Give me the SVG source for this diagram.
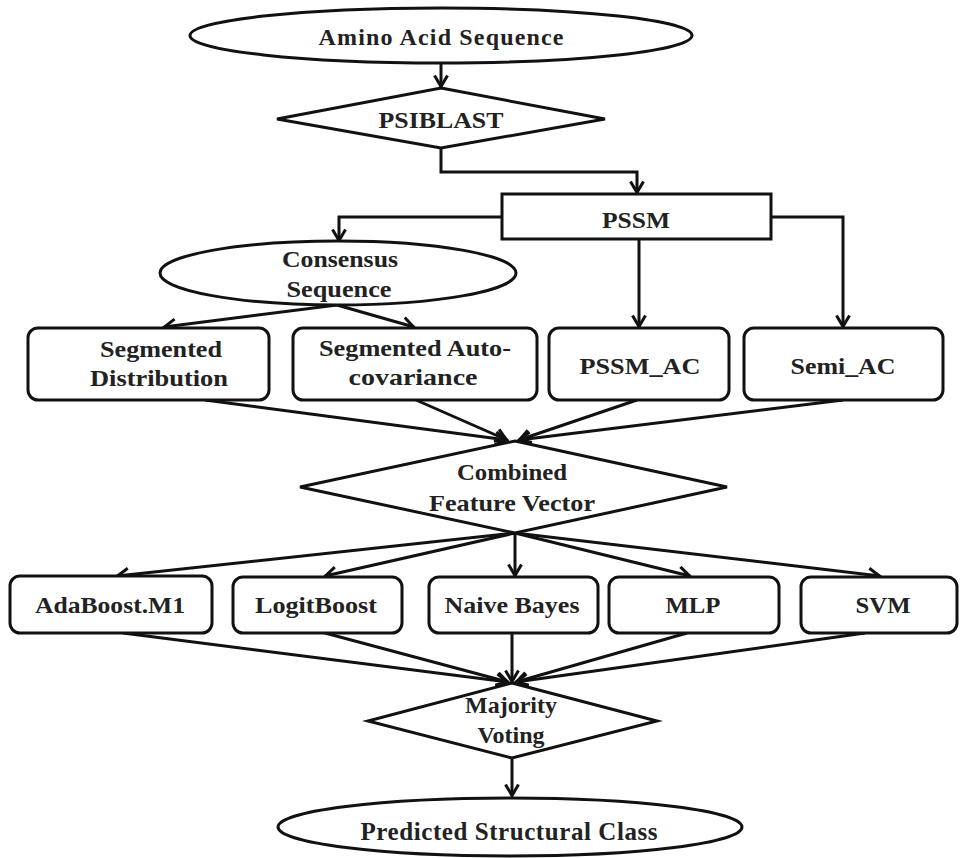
<svg xmlns="http://www.w3.org/2000/svg" width="960" height="858" viewBox="0 0 960 858">
<defs>
<style>
.s{fill:#fff;stroke:#111;stroke-width:3}
.c{fill:none;stroke:#111;stroke-width:3;marker-end:url(#a)}
text{font-family:"Liberation Serif","Times New Roman","DejaVu Serif",serif;font-weight:bold;font-size:24px;fill:#222;text-anchor:middle}
</style>
<marker id="a" viewBox="0 0 16 16" refX="13.5" refY="8" markerWidth="16" markerHeight="16" markerUnits="userSpaceOnUse" orient="auto">
<path d="M2,1.5 L13,8 L2,14.5" fill="none" stroke="#111" stroke-width="3"/>
</marker>
</defs>
<rect width="960" height="858" fill="#fff"/>
<g id="connectors">
<path class="c" d="M441,63 V87"/>
<path class="c" d="M441,148 V172 H637 V193"/>
<path class="c" d="M502,217 H339 V241"/>
<path class="c" d="M771,217 H843 V327"/>
<path class="c" d="M639,239 V327"/>
<path class="c" d="M337,305 L164,327"/>
<path class="c" d="M337,305 L414,327"/>
<path class="c" d="M205,400 L507,440"/>
<path class="c" d="M416,400 L507,440"/>
<path class="c" d="M637,400 L519,440"/>
<path class="c" d="M843,400 L519,440"/>
<path class="c" d="M515,533 L117,576"/>
<path class="c" d="M515,533 L325,576"/>
<path class="c" d="M515,533 L515,576"/>
<path class="c" d="M515,533 L690,576"/>
<path class="c" d="M515,533 L880,576"/>
<path class="c" d="M123,633 L508,682"/>
<path class="c" d="M325,633 L508,682"/>
<path class="c" d="M512,633 L512,682"/>
<path class="c" d="M687,633 L516,682"/>
<path class="c" d="M865,633 L516,682"/>
<path class="c" d="M512,758 V796"/>
</g>
<g id="amino"><ellipse class="s" cx="441" cy="35.5" rx="251" ry="27.5"/><text x="441" y="45" textLength="245" lengthAdjust="spacing">Amino Acid Sequence</text></g>
<g id="psiblast"><polygon class="s" points="441,88 605,119 441,148 277,119"/><text x="441" y="128" textLength="125" lengthAdjust="spacingAndGlyphs">PSIBLAST</text></g>
<g id="pssm"><rect class="s" x="502" y="194" width="269" height="45"/><text x="636" y="228" textLength="68" lengthAdjust="spacingAndGlyphs">PSSM</text></g>
<g id="consensus"><ellipse class="s" cx="338" cy="273" rx="178" ry="32"/><text x="340" y="267" textLength="116" lengthAdjust="spacingAndGlyphs">Consensus</text><text x="339" y="297" textLength="105" lengthAdjust="spacingAndGlyphs">Sequence</text></g>
<g id="segdist"><rect class="s" x="28" y="328" width="241" height="72" rx="10"/><text x="161" y="357" textLength="122" lengthAdjust="spacingAndGlyphs">Segmented</text><text x="159" y="386" textLength="138" lengthAdjust="spacingAndGlyphs">Distribution</text></g>
<g id="segauto"><rect class="s" x="293" y="328" width="244" height="72" rx="10"/><text x="415" y="356" textLength="192" lengthAdjust="spacingAndGlyphs">Segmented Auto-</text><text x="413" y="385" textLength="129" lengthAdjust="spacingAndGlyphs">covariance</text></g>
<g id="pssmac"><rect class="s" x="549" y="328" width="180" height="72" rx="10"/><text x="640" y="374" textLength="121" lengthAdjust="spacingAndGlyphs">PSSM_AC</text></g>
<g id="semiac"><rect class="s" x="744" y="328" width="199" height="72" rx="10"/><text x="843" y="374" textLength="105" lengthAdjust="spacingAndGlyphs">Semi_AC</text></g>
<g id="combined"><polygon class="s" points="515,441 727,487 515,533 300,487"/><text x="512" y="480" textLength="110" lengthAdjust="spacingAndGlyphs">Combined</text><text x="512" y="511" textLength="166" lengthAdjust="spacingAndGlyphs">Feature Vector</text></g>
<g id="ada"><rect class="s" x="10" y="576" width="202" height="57" rx="10"/><text x="110" y="613" textLength="150" lengthAdjust="spacingAndGlyphs">AdaBoost.M1</text></g>
<g id="logit"><rect class="s" x="233" y="577" width="169" height="56" rx="10"/><text x="316" y="613" textLength="122" lengthAdjust="spacingAndGlyphs">LogitBoost</text></g>
<g id="naive"><rect class="s" x="429" y="577" width="169" height="56" rx="10"/><text x="512" y="613" textLength="135" lengthAdjust="spacingAndGlyphs">Naive Bayes</text></g>
<g id="mlp"><rect class="s" x="609" y="577" width="170" height="56" rx="10"/><text x="693" y="613" textLength="55" lengthAdjust="spacingAndGlyphs">MLP</text></g>
<g id="svm"><rect class="s" x="801" y="577" width="156" height="56" rx="10"/><text x="883" y="613" textLength="55" lengthAdjust="spacingAndGlyphs">SVM</text></g>
<g id="majority"><polygon class="s" points="512,683 657,721 512,758 368,721"/><text x="511" y="713">Majority</text><text x="511" y="743">Voting</text></g>
<g id="predicted"><ellipse class="s" cx="510" cy="827" rx="232" ry="29"/><text x="509" y="840" textLength="297" lengthAdjust="spacing" style="font-size:25px">Predicted Structural Class</text></g>
</svg>
